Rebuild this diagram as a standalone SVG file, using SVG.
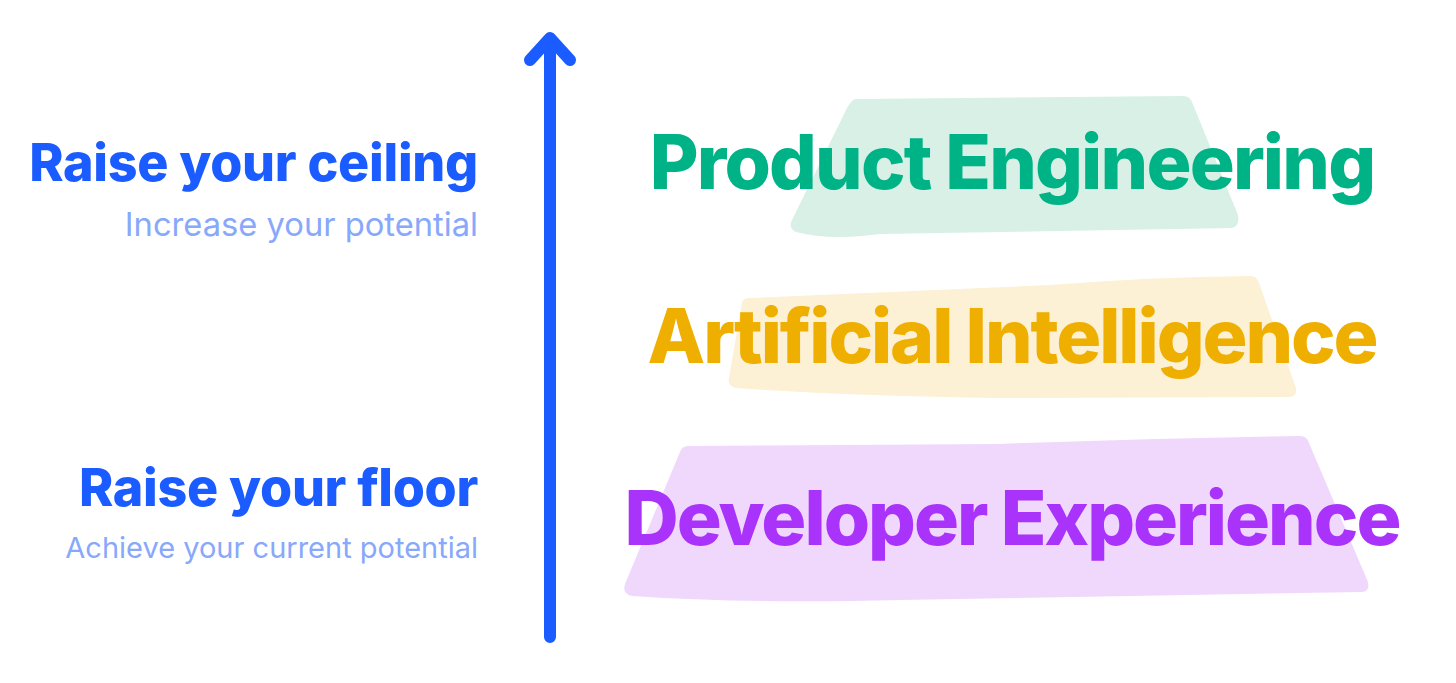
<svg xmlns="http://www.w3.org/2000/svg" width="1456" height="683" viewBox="0 0 1456 683">
<style>
.h{font-family:Inter,"Liberation Sans",sans-serif;font-weight:800;fill:#1a5cff;text-anchor:end;letter-spacing:-0.3px}
.s{font-family:Inter,"Liberation Sans",sans-serif;font-weight:400;fill:#88a8fb;text-anchor:end}
.big{font-family:Inter,"Liberation Sans",sans-serif;font-weight:800;text-anchor:middle;font-size:75px}
</style>
<rect width="1456" height="683" fill="#ffffff"/>
<g id="ceiling">
<text class="h" x="478" y="181" font-size="52">Raise your ceiling</text>
<text class="s" x="478" y="236" font-size="32.7">Increase your potential</text>
</g>
<g id="floor">
<text class="h" x="478" y="506" font-size="52">Raise your floor</text>
<text class="s" x="478" y="558" font-size="29">Achieve your current potential</text>
</g>
<g id="connectors">
<path d="M550 637 V40 M530 60 L550 38 L570 60" fill="none" stroke="#1a5cff" stroke-width="12" stroke-linecap="round" stroke-linejoin="round"/>
</g>
<g id="product">
<path d="M852 101 Q853 99 858 99 L1183 96 Q1190 96 1192 102 L1238 215 Q1240 226 1232 228 L880 234 Q830 241 796 232 Q788 228 792 220 L848 106 Z" fill="#d8f0e6"/>
<text class="big" x="1012" y="189" fill="#00b386" letter-spacing="-1.8">Product Engineering</text>
</g>
<g id="ai">
<path d="M742 302 Q744 298 750 298 L1050 285 Q1150 277 1250 276 Q1257 276 1259 283 L1296 388 Q1297 396 1290 397 L1000 398 Q850 396 736 388 Q727 386 729 378 Z" fill="#fcf0d5"/>
<text class="big" x="1012" y="363" fill="#efaf00" letter-spacing="-2.1">Artificial Intelligence</text>
</g>
<g id="devex">
<path d="M680 452 Q682 446 688 446 L1000 444 Q1150 438 1300 436 Q1307 436 1309 443 L1368 582 Q1370 592 1362 592 L900 600 Q750 604 632 596 Q622 594 625 584 Z" fill="#efd8fc"/>
<text class="big" x="1012" y="545" fill="#a933fb" letter-spacing="-2">Developer Experience</text>
</g>
</svg>
